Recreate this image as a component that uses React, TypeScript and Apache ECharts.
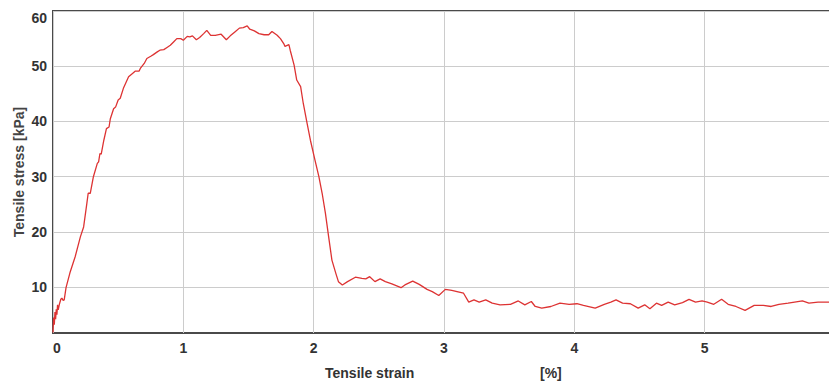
import React, { useEffect, useRef } from "react";
import * as echarts from "echarts";

const strain: number[] = [
  0, 0.005, 0.01, 0.015, 0.02, 0.025, 0.03, 0.035, 0.04, 0.05, 0.06, 0.068, 0.078, 0.086, 0.1,
  0.13, 0.17, 0.21, 0.235, 0.26, 0.27, 0.286, 0.31, 0.34, 0.35, 0.36, 0.37, 0.39, 0.41, 0.43,
  0.44, 0.465, 0.48, 0.5, 0.516, 0.54, 0.58, 0.61, 0.63, 0.66, 0.67, 0.7, 0.72, 0.75, 0.77,
  0.8, 0.82, 0.85, 0.875, 0.9, 0.925, 0.95, 0.98, 1.0, 1.03, 1.05, 1.07, 1.1, 1.125, 1.156,
  1.18, 1.21, 1.245, 1.29, 1.33, 1.36, 1.4, 1.43, 1.46, 1.49, 1.51, 1.545, 1.58, 1.62, 1.655,
  1.68, 1.72, 1.745, 1.77, 1.78, 1.81, 1.82, 1.85, 1.87, 1.9, 1.92, 1.95, 1.975, 2.01, 2.04,
  2.065, 2.09, 2.115, 2.14, 2.17, 2.19, 2.22, 2.26, 2.32, 2.37, 2.4, 2.43, 2.47, 2.51, 2.55,
  2.6, 2.67, 2.7, 2.76, 2.81, 2.87, 2.91, 2.96, 3.01, 3.06, 3.1, 3.15, 3.19, 3.23, 3.27, 3.32,
  3.37, 3.43, 3.51, 3.57, 3.62, 3.67, 3.7, 3.75, 3.82, 3.89, 3.96, 4.02, 4.07, 4.16, 4.23,
  4.28, 4.32, 4.37, 4.43, 4.49, 4.54, 4.58, 4.63, 4.67, 4.72, 4.77, 4.83, 4.88, 4.93, 4.98,
  5.02, 5.07, 5.13, 5.18, 5.24, 5.31, 5.38, 5.45, 5.51, 5.57, 5.64, 5.69, 5.75, 5.8, 5.87,
  5.92, 5.96, 6.0,
];

const stress: number[] = [
  1.8, 4.5, 3.2, 5.5, 4.2, 6.0, 5.0, 6.8, 5.9, 7.0, 7.8, 8.0, 7.6, 7.7, 9.9,
  12.6, 15.5, 19.1, 20.9, 25.2, 27.0, 27.0, 30.0, 32.4, 32.7, 34.2, 34.1, 36.6, 38.7, 39.0,
  40.5, 42.3, 42.6, 43.9, 44.2, 46.0, 48.1, 48.7, 49.1, 49.1, 49.6, 50.5, 51.4, 51.8, 52.1,
  52.6, 52.9, 53.0, 53.4, 53.8, 54.4, 55.0, 55.0, 54.7, 55.4, 55.3, 55.5, 54.8, 55.2, 55.9,
  56.5, 55.6, 55.6, 55.8, 54.8, 55.5, 56.3, 56.9, 57.0, 57.3, 56.7, 56.4, 55.9, 55.7, 55.7,
  56.3, 55.6, 55.0, 54.1, 53.6, 53.9, 52.9, 50.2, 47.5, 46.3, 43.3, 39.6, 36.6, 33.0, 30.0,
  27.0, 23.4, 19.1, 14.9, 12.5, 11.0, 10.4, 11.0, 11.8, 11.6, 11.5, 11.9, 11.0, 11.5, 11.0,
  10.6, 9.9, 10.4, 11.1, 10.5, 9.6, 9.2, 8.5, 9.6, 9.4, 9.2, 8.9, 7.3, 7.7, 7.3, 7.7,
  7.1, 6.8, 6.9, 7.5, 6.8, 7.4, 6.5, 6.2, 6.5, 7.1, 6.9, 7.0, 6.7, 6.2, 6.9,
  7.3, 7.7, 7.1, 7.0, 6.2, 6.8, 6.1, 7.1, 6.7, 7.3, 6.8, 7.2, 7.8, 7.3, 7.5,
  7.3, 6.9, 7.8, 6.9, 6.5, 5.8, 6.7, 6.7, 6.5, 6.9, 7.1, 7.3, 7.5, 7.1, 7.3,
  7.3, 7.3, 7.2,
];

const yTickValues: number[] = [10, 20, 30, 40, 50, 60];

export default function App() {
  const ref = useRef<HTMLDivElement>(null);

  useEffect(() => {
    if (!ref.current) return;
    const chart = echarts.init(ref.current, undefined, { renderer: "svg" });
    const data = strain.map((x, i) => [x, stress[i]]);
    const font = "'Liberation Sans', Arial, sans-serif";
    chart.setOption({
      animation: false,
      backgroundColor: "#ffffff",
      grid: {
        left: 53,
        right: -6,
        top: 11,
        bottom: 52,
        show: true,
        containLabel: false,
        outerBoundsMode: "none",
        borderColor: "#4a4a4a",
        borderWidth: 2,
        backgroundColor: "transparent",
      },
      xAxis: {
        type: "value",
        min: 0,
        max: 6,
        interval: 1,
        axisLine: { show: false },
        axisTick: { show: false },
        splitLine: { show: true, lineStyle: { color: "#cccccc", width: 1 } },
        axisLabel: {
          margin: 8,
          color: "#333333",
          fontSize: 14,
          fontWeight: "bold",
          fontFamily: font,
          alignMinLabel: "left",
        },
      },
      yAxis: {
        type: "value",
        min: 1.7,
        max: 60,
        name: "Tensile stress [kPa]",
        nameLocation: "middle",
        nameRotate: 90,
        nameGap: 27,
        nameMoveOverlap: false,
        nameTextStyle: {
          color: "#444444",
          fontSize: 14,
          fontWeight: "bold",
          fontFamily: font,
        },
        axisLine: { show: false },
        axisTick: { show: false, customValues: yTickValues },
        splitLine: { show: true, lineStyle: { color: "#cccccc", width: 1 } },
        axisLabel: {
          customValues: yTickValues,
          margin: 6,
          color: "#333333",
          fontSize: 14,
          fontWeight: "bold",
          fontFamily: font,
          verticalAlignMaxLabel: "top",
        },
      },
      graphic: [
        {
          type: "text",
          left: 325,
          top: 366,
          style: {
            text: "Tensile strain",
            fill: "#333333",
            fontSize: 14,
            fontWeight: "bold",
            fontFamily: font,
          },
        },
        {
          type: "text",
          left: 540,
          top: 366,
          style: {
            text: "[%]",
            fill: "#333333",
            fontSize: 14,
            fontWeight: "bold",
            fontFamily: font,
          },
        },
      ],
      series: [
        {
          type: "line",
          data,
          showSymbol: false,
          lineStyle: { color: "#dd3333", width: 1.3 },
          clip: true,
        },
      ],
    });
    return () => chart.dispose();
  }, []);

  return (
    <div
      ref={ref}
      style={{ position: "fixed", left: 0, top: 0, width: 829, height: 385 }}
    />
  );
}
